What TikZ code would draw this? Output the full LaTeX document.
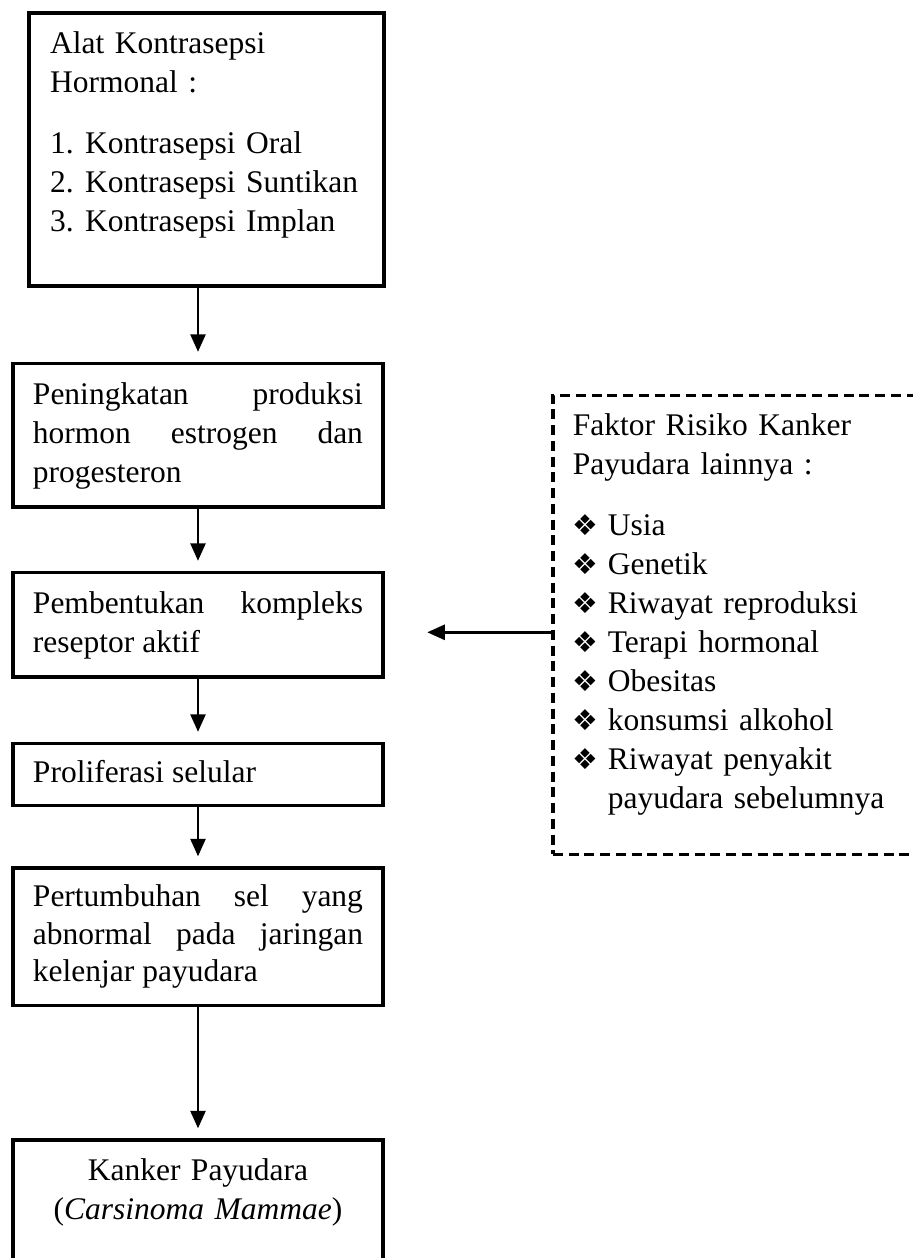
\documentclass[tikz,border=0pt]{standalone}
\usepackage{fontspec}
\setmainfont{Liberation Serif}
\newfontfamily\dejavu{DejaVu Sans}
\usetikzlibrary{positioning, arrows.meta}
\tikzstyle{tBox} = [rectangle, draw=black, line width=1.4pt, text width=132pt, inner xsep=8pt, inner ysep=5.3pt, align=justify, font=\fontsize{12.6}{15.6}\selectfont]
\tikzstyle{tDashBox} = [rectangle, draw=black, line width=1.3pt, dash pattern=on 4pt off 2.3pt, text width=135pt, inner xsep=8pt, inner ysep=5.3pt, align=left, font=\fontsize{12.6}{15.6}\selectfont]
\tikzstyle{tArrow} = [line width=1pt, -{Triangle[length=7pt,width=6pt]}, shorten >=4pt]
\tikzstyle{tArrowBack} = [line width=1pt, {Triangle[length=7pt,width=6pt]}-, shorten <=4pt]
\newcommand{\riskbullet}{\makebox[14pt][l]{\dejavu\fontsize{11.5}{11.5}\selectfont ❖}}
\newcommand{\numitem}[1]{\makebox[14pt][l]{#1}}
\newcommand{\deepstrut}[1]{\rule[-#1]{0pt}{#1}}
\tolerance=10000
\hyphenpenalty=10000

\begin{document}
\begin{tikzpicture}[x=0.4pt, y=-0.4pt]
        \useasboundingbox (0,0) rectangle (912,1258);
        \node[tBox, align=left, text width=125pt, inner xsep=8.5pt] (Alat) at (206.5,11.5) [anchor=north] {\strut Alat Kontrasepsi\\ Hormonal :\\[8.8pt] \numitem{1.}Kontrasepsi Oral\\ \numitem{2.}Kontrasepsi Suntikan\\ \numitem{3.}Kontrasepsi Implan\deepstrut{16.4pt}};
        \node[tBox] (Produksi) [below =29.6pt of Alat, xshift=-3.4pt] {\strut Peningkatan produksi\linebreak hormon estrogen dan\linebreak progesteron\strut} edge [tArrowBack] (Alat.south -| Produksi.north);
        \node[tBox] (Reseptor) [below =24.8pt of Produksi] {\strut Pembentukan kompleks\linebreak reseptor aktif\strut} edge [tArrowBack] (Produksi);
        \node[tBox, inner ysep=4.6pt] (Proliferasi) [below =25.2pt of Reseptor] {\strut Proliferasi selular\strut} edge [tArrowBack] (Reseptor);
        \node[tBox, inner ysep=5pt, font=\fontsize{12.6}{15}\selectfont] (Pertumbuhan) [below =23.6pt of Proliferasi] {\strut Pertumbuhan sel yang\linebreak abnormal pada jaringan\linebreak kelenjar payudara\strut} edge [tArrowBack] (Proliferasi);
        \node[tBox, align=center] (Kanker) [below =52.4pt of Pertumbuhan] {\strut Kanker Payudara\\ (\textit{Carsinoma Mammae})\deepstrut{26pt}} edge [tArrowBack] (Pertumbuhan);
        \node[tDashBox] (Risiko) [right =66.6pt of Reseptor] {\strut Faktor Risiko Kanker\\ Payudara lainnya :\\[8.8pt] \riskbullet Usia\\ \riskbullet Genetik\\ \riskbullet Riwayat reproduksi\\ \riskbullet Terapi hormonal\\ \riskbullet Obesitas\\ \riskbullet konsumsi alkohol\\ \riskbullet Riwayat penyakit\\ \hspace*{14pt}payudara sebelumnya\deepstrut{13pt}};
        \draw[tArrow, shorten >=17pt] ([yshift=-3pt]Risiko.west) -- ([yshift=-3pt]Risiko.west -| Reseptor.east);
    \end{tikzpicture}
\end{document}
